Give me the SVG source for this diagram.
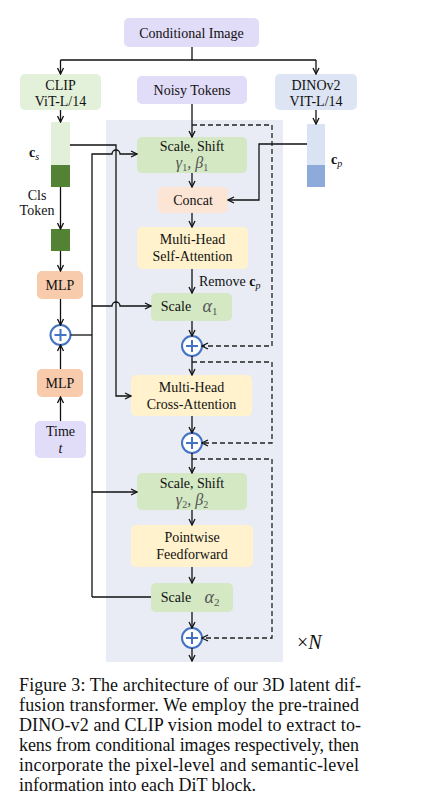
<svg xmlns="http://www.w3.org/2000/svg" width="422" height="798" viewBox="0 0 422 798">
<defs>
<marker id="arr" markerUnits="userSpaceOnUse" markerWidth="8" markerHeight="8" viewBox="0 0 8 8" refX="7" refY="4" orient="auto">
<path d="M1,1 L7,4 L1,7" fill="none" stroke="#111" stroke-width="1.3"/>
</marker>
<style>
text{font-family:"Liberation Serif","Times New Roman",serif;fill:#111}
.t{font-size:14px;text-anchor:middle}
.m{font-style:italic;fill:#555;text-anchor:middle}
.cap{font-size:18px}
.ln{fill:none;stroke:#111;stroke-width:1.3}
.da{fill:none;stroke:#222;stroke-width:1.3;stroke-dasharray:5,3}
.lav{fill:#e1dcf8}
.grn{fill:#d3e8c3}
.yel{fill:#fff2cc}
.mlp{fill:#f8cbad}
.plus circle{fill:#fff;stroke:#4472c4;stroke-width:2}
.plus path{stroke:#4472c4;stroke-width:2}
</style>
</defs>
<rect width="422" height="798" fill="#fff"/>
<g id="dit-block-bg"><rect x="106" y="120" width="177" height="542" fill="#e9ecf4"/></g>

<g id="conditional-image"><rect class="lav" x="124" y="18" width="135" height="29" rx="5"/><text class="t" x="191.5" y="37.5">Conditional Image</text></g>
<g id="clip"><rect x="20" y="74" width="81" height="36" rx="5" fill="#e4f1da"/><text class="t" x="60.5" y="89.5">CLIP</text><text class="t" x="60.5" y="105.5">ViT-L/14</text></g>
<g id="noisy-tokens"><rect class="lav" x="137" y="76" width="110" height="28" rx="5"/><text class="t" x="192" y="94.5">Noisy Tokens</text></g>
<g id="dinov2"><rect x="275" y="74" width="82" height="36" rx="5" fill="#dde5f4"/><text class="t" x="316" y="89.5">DINOv2</text><text class="t" x="316" y="105.5">VIT-L/14</text></g>

<g id="cs-tokens"><rect x="51" y="122" width="19" height="43" fill="#e2efd9"/><rect x="51" y="165" width="19" height="22" fill="#548235"/>
<text x="29" y="157" font-size="14"><tspan font-weight="bold">c</tspan><tspan font-style="italic" font-size="10" dy="3">s</tspan></text></g>
<g id="cls-token-label"><text class="t" x="37" y="199.5">Cls</text><text class="t" x="37" y="215">Token</text></g>
<g id="cls-token"><rect x="51" y="229" width="19" height="22" fill="#548235"/></g>
<g id="mlp1"><rect class="mlp" x="37" y="271" width="46" height="28" rx="5"/><text class="t" x="60" y="289.5">MLP</text></g>
<g id="plus-left" class="plus"><circle cx="60.5" cy="335" r="10"/><path d="M54.5,335 H66.5 M60.5,329 V341"/></g>
<g id="mlp2"><rect class="mlp" x="37" y="369" width="46" height="28" rx="5"/><text class="t" x="60" y="387.5">MLP</text></g>
<g id="time"><rect class="lav" x="35" y="421" width="51" height="37" rx="5"/><text class="t" x="60.5" y="435.5">Time</text><text class="t" x="60.5" y="453" font-style="italic">t</text></g>

<g id="cp-tokens"><rect x="307" y="124" width="18" height="41" fill="#dae3f3"/><rect x="307" y="165" width="18" height="22" fill="#8eaadb"/>
<text x="331" y="164" font-size="14"><tspan font-weight="bold">c</tspan><tspan font-style="italic" font-size="10" dy="3">p</tspan></text></g>

<g id="scale-shift-1"><rect class="grn" x="137" y="137" width="110" height="36" rx="5"/><text class="t" x="192" y="151">Scale, Shift</text>
<text class="m" x="192" y="168" font-size="16">γ<tspan font-style="normal" font-size="10" dy="3">1</tspan><tspan dy="-3">, β</tspan><tspan font-style="normal" font-size="10" dy="3">1</tspan></text></g>
<g id="concat"><rect x="158" y="187" width="70" height="26" rx="5" fill="#fde5d6"/><text class="t" x="193" y="204.5">Concat</text></g>
<g id="self-attention"><rect class="yel" x="137" y="227" width="111" height="42" rx="5"/><text class="t" x="192.5" y="244">Multi-Head</text><text class="t" x="192.5" y="261">Self-Attention</text></g>
<g id="remove-cp"><text x="199" y="286" font-size="14">Remove <tspan font-weight="bold">c</tspan><tspan font-style="italic" font-size="10" dy="3">p</tspan></text></g>
<g id="scale-1"><rect class="grn" x="151" y="293" width="81" height="28" rx="5"/><text class="t" x="176" y="311">Scale</text><text class="m" x="210" y="312" font-size="18">α<tspan font-style="normal" font-size="11" dy="3">1</tspan></text></g>
<g id="plus-1" class="plus"><circle cx="192" cy="346" r="10"/><path d="M186,346 H198 M192,340 V352"/></g>
<g id="cross-attention"><rect class="yel" x="131" y="375" width="121" height="41" rx="5"/><text class="t" x="191.5" y="392">Multi-Head</text><text class="t" x="191.5" y="409">Cross-Attention</text></g>
<g id="plus-2" class="plus"><circle cx="192" cy="443" r="10"/><path d="M186,443 H198 M192,437 V449"/></g>
<g id="scale-shift-2"><rect class="grn" x="137" y="473" width="110" height="37" rx="5"/><text class="t" x="192" y="488">Scale, Shift</text>
<text class="m" x="192" y="505" font-size="16">γ<tspan font-style="normal" font-size="10" dy="3">2</tspan><tspan dy="-3">, β</tspan><tspan font-style="normal" font-size="10" dy="3">2</tspan></text></g>
<g id="feedforward"><rect class="yel" x="131" y="525" width="122" height="42" rx="5"/><text class="t" x="192" y="542">Pointwise</text><text class="t" x="192" y="559">Feedforward</text></g>
<g id="scale-2"><rect class="grn" x="151" y="583" width="82" height="29" rx="5"/><text class="t" x="176" y="602">Scale</text><text class="m" x="212" y="603" font-size="18">α<tspan font-style="normal" font-size="11" dy="3">2</tspan></text></g>
<g id="plus-3" class="plus"><circle cx="192" cy="638" r="10"/><path d="M186,638 H198 M192,632 V644"/></g>
<g id="times-n"><text x="297" y="649" font-size="20">×<tspan font-style="italic">N</tspan></text></g>

<g id="connectors">
<path class="ln" d="M192,47 V60 M60.5,60 H316"/>
<path class="ln" d="M60.5,60 V74" marker-end="url(#arr)"/>
<path class="ln" d="M316,60 V74" marker-end="url(#arr)"/>
<path class="ln" d="M60.5,110 V122" marker-end="url(#arr)"/>
<path class="ln" d="M316,110 V124" marker-end="url(#arr)"/>
<path class="ln" d="M60.5,187 V229" marker-end="url(#arr)"/>
<path class="ln" d="M60.5,251 V271" marker-end="url(#arr)"/>
<path class="ln" d="M60.5,299 V325" marker-end="url(#arr)"/>
<path class="ln" d="M60.5,369 V345" marker-end="url(#arr)"/>
<path class="ln" d="M60.5,421 V397" marker-end="url(#arr)"/>
<path class="ln" d="M70.5,335 H92"/>
<path class="ln" d="M70,145 H116 V396 H131" marker-end="url(#arr)"/>
<path class="ln" d="M92,597 V154 H112 A4,4 0 0 1 120,154 H137" marker-end="url(#arr)"/>
<path class="ln" d="M92,306 H112 A4,4 0 0 1 120,306 H151" marker-end="url(#arr)"/>
<path class="ln" d="M92,492 H137" marker-end="url(#arr)"/>
<path class="ln" d="M92,597 H151"/>
<path class="ln" d="M307,144 H259 V200 H228" marker-end="url(#arr)"/>
<path class="ln" d="M192,104 V137" marker-end="url(#arr)"/>
<path class="ln" d="M192,173 V187" marker-end="url(#arr)"/>
<path class="ln" d="M192,213 V227" marker-end="url(#arr)"/>
<path class="ln" d="M192,269 V293" marker-end="url(#arr)"/>
<path class="ln" d="M192,321 V336" marker-end="url(#arr)"/>
<path class="ln" d="M192,356 V375" marker-end="url(#arr)"/>
<path class="ln" d="M192,416 V433" marker-end="url(#arr)"/>
<path class="ln" d="M192,453 V473" marker-end="url(#arr)"/>
<path class="ln" d="M192,510 V525" marker-end="url(#arr)"/>
<path class="ln" d="M192,567 V583" marker-end="url(#arr)"/>
<path class="ln" d="M192,612 V628" marker-end="url(#arr)"/>
<path class="ln" d="M192,648 V661" marker-end="url(#arr)"/>
<path class="da" d="M192,125 H272 V346 H202" marker-end="url(#arr)"/>
<path class="da" d="M192,362 H272 V443 H202" marker-end="url(#arr)"/>
<path class="da" d="M192,459 H272 V638 H202" marker-end="url(#arr)"/>
</g>

<g id="caption">
<text class="cap" x="19" y="691" textLength="342" lengthAdjust="spacing">Figure 3: The architecture of our 3D latent dif-</text>
<text class="cap" x="19" y="711" textLength="340" lengthAdjust="spacing">fusion transformer. We employ the pre-trained</text>
<text class="cap" x="19" y="731" textLength="342" lengthAdjust="spacing">DINO-v2 and CLIP vision model to extract to-</text>
<text class="cap" x="19" y="751" textLength="340" lengthAdjust="spacing">kens from conditional images respectively, then</text>
<text class="cap" x="19" y="771" textLength="340" lengthAdjust="spacing">incorporate the pixel-level and semantic-level</text>
<text class="cap" x="19" y="791">information into each DiT block.</text>
</g>
</svg>
